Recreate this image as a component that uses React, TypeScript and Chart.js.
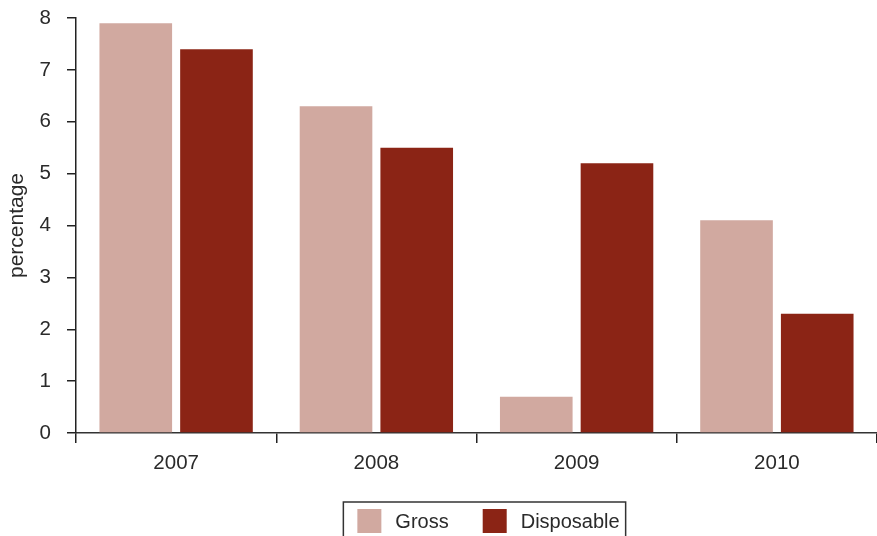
import React, { useEffect, useRef } from "react";
import { Chart, registerables } from "chart.js";

Chart.register(...registerables);

const categories = ["2007", "2008", "2009", "2010"];
const grossValues = [7.9, 6.3, 0.7, 4.1];
const disposableValues = [7.4, 5.5, 5.2, 2.3];
const seriesNames = ["Gross", "Disposable"];
const seriesColors = ["#D1A9A0", "#8B2415"];
const yTicks = [0, 1, 2, 3, 4, 5, 6, 7, 8];

const FONT = "'Liberation Sans', Helvetica, Arial, sans-serif";
const TEXT = "#2a2a2a";

const boxLegend = {
  id: "boxLegend",
  afterDraw(chart: any) {
    const ctx = chart.ctx as CanvasRenderingContext2D;
    const ca = chart.chartArea;
    ctx.save();
    ctx.font = `20px ${FONT}`;
    const sq = 24;
    const padL = 14;
    const gapText = 14;
    const gapItem = 34;
    const padR = 6;
    const items = chart.data.datasets.map((d: any) => ({
      label: d.label,
      color: d.backgroundColor,
      w: ctx.measureText(d.label).width,
    }));
    let total = padL + padR;
    items.forEach((it: any, i: number) => {
      total += sq + gapText + it.w + (i < items.length - 1 ? gapItem : 0);
    });
    const cx = (ca.left + ca.right) / 2 + 8;
    const left = cx - total / 2;
    const top = ca.bottom + 69;
    ctx.strokeStyle = "#333";
    ctx.lineWidth = 1.5;
    ctx.strokeRect(left, top, total, 60);
    let x = left + padL;
    const sqTop = top + 7;
    items.forEach((it: any) => {
      ctx.fillStyle = it.color;
      ctx.fillRect(x, sqTop, sq, sq);
      x += sq + gapText;
      ctx.fillStyle = TEXT;
      ctx.textBaseline = "middle";
      ctx.textAlign = "left";
      ctx.fillText(it.label, x, sqTop + sq / 2 + 1);
      x += it.w + gapItem;
    });
    ctx.restore();
  },
};

export default function App() {
  const ref = useRef<HTMLCanvasElement>(null);
  useEffect(() => {
    document.body.style.margin = "0";
    if (!ref.current) return;
    const chart = new Chart(ref.current, {
      type: "bar",
      data: {
        labels: categories,
        datasets: [
          {
            label: seriesNames[0],
            data: grossValues,
            backgroundColor: seriesColors[0],
            categoryPercentage: 0.806,
            barPercentage: 0.9,
          },
          {
            label: seriesNames[1],
            data: disposableValues,
            backgroundColor: seriesColors[1],
            categoryPercentage: 0.806,
            barPercentage: 0.9,
          },
        ],
      },
      options: {
        responsive: false,
        animation: false,
        layout: { padding: { top: 18, right: 0, bottom: 43, left: 0 } },
        plugins: {
          legend: { display: false },
          tooltip: { enabled: false },
        },
        scales: {
          x: {
            grid: {
              offset: true,
              drawOnChartArea: false,
              drawTicks: true,
              tickLength: 10,
              color: "#222",
              lineWidth: 1.5,
            },
            border: { display: true, color: "#333", width: 1.5 },
            ticks: {
              color: TEXT,
              font: { family: FONT, size: 20.5 },
              padding: 8,
            },
            afterFit(scale: any) {
              scale.height = 60;
              scale.paddingLeft = 0;
              scale.paddingRight = 0;
            },
          },
          y: {
            min: 0,
            max: 8,
            afterBuildTicks(scale: any) {
              scale.ticks = yTicks.map((v) => ({ value: v }));
            },
            grid: {
              drawOnChartArea: false,
              drawTicks: true,
              tickLength: 9,
              color: "#222",
              lineWidth: 1.5,
            },
            border: { display: true, color: "#222", width: 1.5 },
            ticks: {
              color: TEXT,
              font: { family: FONT, size: 20.5 },
              padding: 16,
            },
            title: {
              display: true,
              text: "percentage",
              color: TEXT,
              font: { family: FONT, size: 21 },
              padding: { top: 5, bottom: 0 },
            },
            afterFit(scale: any) {
              scale.width = 76;
              scale.paddingTop = 0;
              scale.paddingBottom = 0;
            },
          },
        },
      },
      plugins: [boxLegend],
    } as any);
    return () => chart.destroy();
  }, []);
  return <canvas ref={ref} width={877} height={536} />;
}
